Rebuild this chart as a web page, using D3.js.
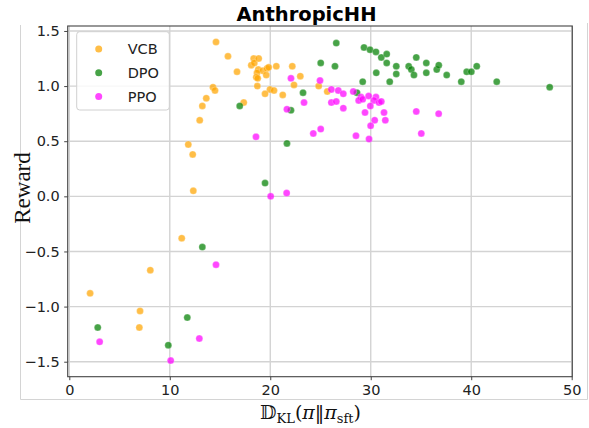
<!DOCTYPE html>
<html>
<head>
<meta charset="utf-8">
<script src="https://cdn.jsdelivr.net/npm/d3@7"></script>
<style>
  body { margin: 0; background: #fff; }
  svg { display: block; }
</style>
</head>
<body>
<div id="chart"></div>
<script>
"use strict";

// KL divergence vs reward, one array of [kl, reward] per method
var vcb = [
    [2.07, -0.88], [7.04, -1.04], [6.97, -1.19], [8.06, -0.67], [11.19, -0.38],
    [11.84, 0.47], [12.28, 0.38], [12.34, 0.05], [12.98, 0.69], [13.24, 0.82],
    [13.63, 0.89], [14.3, 0.99], [14.5, 0.96], [14.6, 1.40], [15.79, 1.27],
    [16.69, 1.13], [17.36, 0.85], [18.11, 1.19], [18.35, 1.25], [18.41, 1.21],
    [18.85, 1.25], [18.81, 1.15], [19.25, 1.14], [19.67, 1.16], [19.84, 1.17],
    [18.68, 1.12], [18.61, 1.08], [18.75, 1.07], [19.6, 1.10], [20.6, 1.18],
    [22.19, 1.18], [22.99, 1.09], [22.36, 1.01], [18.71, 1.00], [19.97, 0.97],
    [20.37, 0.96], [19.48, 0.93], [21.24, 0.92], [24.82, 1.00], [25.67, 0.95]
];
var dpo = [
    [2.83, -1.19], [9.85, -1.35], [11.74, -1.10], [13.24, -0.46], [16.96, 0.82],
    [19.48, 0.12], [21.66, 0.48], [22.06, 0.78], [23.26, 0.94], [25.02, 1.21],
    [26.57, 1.39], [26.44, 1.18], [28.63, 0.94], [29.2, 1.04], [29.33, 1.35],
    [29.93, 1.33], [30.52, 1.31], [31.05, 1.26], [31.59, 1.29], [30.55, 1.12],
    [31.59, 1.21], [31.89, 1.04], [32.54, 1.18], [32.54, 1.11], [33.78, 1.18],
    [34.04, 1.15], [34.3, 1.10], [34.53, 1.26], [35.53, 1.21], [35.53, 1.12],
    [36.57, 1.15], [36.77, 1.19], [37.56, 1.10], [39.01, 1.04], [39.55, 1.13],
    [40.01, 1.13], [40.55, 1.18], [42.54, 1.04], [47.81, 0.99]
];
var ppo = [
    [3.02, -1.32], [10.09, -1.49], [12.94, -1.29], [14.6, -0.62], [18.58, 0.54],
    [20.04, 0.0], [21.63, 0.03], [21.66, 0.79], [23.36, 0.85], [22.06, 1.07],
    [24.95, 1.05], [26.08, 0.97], [26.77, 0.96], [27.27, 0.93], [26.08, 0.85],
    [26.57, 0.86], [27.27, 0.80], [28.26, 0.95], [29.03, 0.90], [28.8, 0.87],
    [29.2, 0.88], [29.79, 0.91], [30.52, 0.90], [30.32, 0.87], [30.82, 0.85],
    [31.05, 0.86], [29.96, 0.82], [29.43, 0.76], [31.32, 0.76], [30.39, 0.69],
    [31.45, 0.69], [29.99, 0.64], [25.02, 0.61], [24.28, 0.57], [28.53, 0.55],
    [29.83, 0.52], [34.53, 0.77], [36.76, 0.75], [35.03, 0.57]
];

var seriesNames = ["VCB", "DPO", "PPO"];
var seriesColors = ["orange", "green", "magenta"];
var xTicks = [0, 10, 20, 30, 40, 50];
var yTicks = [-1.5, -1.0, -0.5, 0.0, 0.5, 1.0, 1.5];

var width = 589, height = 428;
var m = { left: 67.7, right: 589 - 572.3, top: 26, bottom: 428 - 376.7 };

var svg = d3.select("#chart").append("svg")
    .attr("width", width)
    .attr("height", height);

var x = d3.scaleLinear().domain([-0.16, 50.06]).range([m.left, width - m.right]);
var y = d3.scaleLinear().domain([-1.636, 1.545]).range([height - m.bottom, m.top]);

// faint figure frame
svg.append("path")
    .attr("d", "M20.5,25V399.5H587.5V23")
    .attr("fill", "none")
    .attr("stroke", "#d4d4d4")
    .attr("stroke-width", 1);

// grid
var grid = svg.append("g").attr("class", "grid");
grid.selectAll("line.gx")
    .data(xTicks)
    .enter().append("line")
    .attr("class", "gx")
    .attr("x1", function (d) { return x(d); })
    .attr("x2", function (d) { return x(d); })
    .attr("y1", y.range()[1])
    .attr("y2", y.range()[0])
    .attr("stroke", "#d3d3d3")
    .attr("stroke-width", 1.4);
grid.selectAll("line.gy")
    .data(yTicks)
    .enter().append("line")
    .attr("class", "gy")
    .attr("y1", function (d) { return y(d); })
    .attr("y2", function (d) { return y(d); })
    .attr("x1", x.range()[0])
    .attr("x2", x.range()[1])
    .attr("stroke", "#d3d3d3")
    .attr("stroke-width", 1.4);

// points, drawn in legend order so PPO ends up on top
var allSeries = [vcb, dpo, ppo];
allSeries.forEach(function (pts, i) {
    svg.append("g")
        .selectAll("circle")
        .data(pts)
        .enter().append("circle")
        .attr("cx", function (d) { return x(d[0]); })
        .attr("cy", function (d) { return y(d[1]); })
        .attr("r", 3.5)
        .attr("fill", seriesColors[i])
        .attr("fill-opacity", 0.72)
        .attr("stroke", "#fff")
        .attr("stroke-opacity", 0.5)
        .attr("stroke-width", 0.5);
});

// axes
var xAxis = svg.append("g")
    .attr("transform", "translate(0," + y.range()[0] + ")")
    .call(d3.axisBottom(x).tickValues(xTicks).tickSize(3.5).tickPadding(4.5).tickFormat(d3.format("d")));
var yAxis = svg.append("g")
    .attr("transform", "translate(" + x.range()[0] + ",0)")
    .call(d3.axisLeft(y).tickValues(yTicks).tickSize(3.5).tickPadding(4.5).tickFormat(d3.format(".1f")));

[xAxis, yAxis].forEach(function (a) {
    a.select(".domain").remove();
    a.selectAll(".tick line").attr("stroke", "#444").attr("stroke-width", 1);
    a.selectAll(".tick text")
        .attr("fill", "#222")
        .style("font-family", "DejaVu Sans")
        .style("font-size", "14.5px");
});

// box spines
svg.append("rect")
    .attr("x", x.range()[0])
    .attr("y", y.range()[1])
    .attr("width", x.range()[1] - x.range()[0])
    .attr("height", y.range()[0] - y.range()[1])
    .attr("fill", "none")
    .attr("stroke", "#444")
    .attr("stroke-width", 1.1);

// title
svg.append("text")
    .attr("x", 306.5)
    .attr("y", 21)
    .attr("text-anchor", "middle")
    .style("font-family", "DejaVu Sans")
    .style("font-weight", "bold")
    .style("font-size", "19.5px")
    .text("AnthropicHH");

// y label
svg.append("text")
    .attr("transform", "translate(30,188) rotate(-90)")
    .attr("text-anchor", "middle")
    .style("font-family", "Liberation Serif")
    .style("font-size", "23px")
    .attr("fill", "#111")
    .text("Reward");

// x label: D_KL(pi || pi_sft)
var xl = svg.append("text")
    .attr("x", 310.5)
    .attr("y", 419)
    .attr("text-anchor", "middle")
    .attr("fill", "#111")
    .style("font-family", "DejaVu Serif")
    .style("font-size", "19px");
xl.append("tspan").text("\uD835\uDD3B");
xl.append("tspan").attr("dy", 4).style("font-size", "13px").text("KL");
xl.append("tspan").attr("dy", -4).text("(");
xl.append("tspan").style("font-style", "italic").text("\u03C0");
xl.append("tspan").text("\u2016");
xl.append("tspan").style("font-style", "italic").text("\u03C0");
xl.append("tspan").attr("dy", 4).style("font-size", "13px").text("sft");
xl.append("tspan").attr("dy", -4).text(")");

// legend
var lg = svg.append("g").attr("transform", "translate(76.7,31.7)");
lg.append("rect")
    .attr("width", 92.6)
    .attr("height", 78.3)
    .attr("rx", 3)
    .attr("fill", "#fff")
    .attr("fill-opacity", 0.8)
    .attr("stroke", "#d0d0d0");
var item = lg.selectAll("g.item")
    .data(seriesNames)
    .enter().append("g")
    .attr("class", "item")
    .attr("transform", function (d, i) { return "translate(0," + (17.3 + i * 23.8) + ")"; });
item.append("circle")
    .attr("cx", 22)
    .attr("r", 3.5)
    .attr("fill", function (d, i) { return seriesColors[i]; })
    .attr("fill-opacity", 0.72);
item.append("text")
    .attr("x", 51)
    .attr("dy", "0.36em")
    .attr("fill", "#222")
    .style("font-family", "DejaVu Sans")
    .style("font-size", "14.5px")
    .text(function (d) { return d; });
</script>
</body>
</html>
